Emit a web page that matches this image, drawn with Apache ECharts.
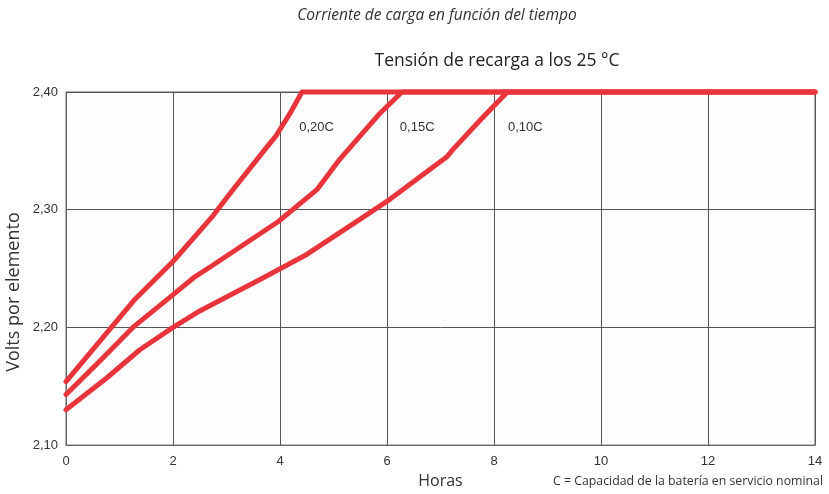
<!DOCTYPE html>
<html><head><meta charset="utf-8">
<script src="https://cdn.jsdelivr.net/npm/echarts@6/dist/echarts.min.js"></script>
<style>html,body{margin:0;padding:0;background:#fff}#c{width:829px;height:494px}</style>
</head><body><div id="c"></div>
<script>
// Data (hours vs volts per cell)
const hours020 = [0, 1.29, 2.0, 2.75, 3.12, 3.75, 3.93, 4.19, 4.41, 14];
const volts020 = [2.154, 2.224, 2.256, 2.295, 2.317, 2.353, 2.363, 2.382, 2.40, 2.40];
const hours015 = [0, 0.6, 1.25, 1.98, 2.38, 2.75, 3.97, 4.69, 5.12, 5.87, 6.28, 14];
const volts015 = [2.143, 2.170, 2.20, 2.227, 2.242, 2.253, 2.290, 2.317, 2.343, 2.382, 2.40, 2.40];
const hours010 = [0, 0.76, 1.38, 2.0, 2.5, 3.68, 4.5, 5.5, 6.06, 7.12, 7.23, 7.74, 8.25, 14];
const volts010 = [2.130, 2.157, 2.181, 2.20, 2.214, 2.242, 2.262, 2.292, 2.309, 2.345, 2.351, 2.376, 2.40, 2.40];
const seriesNames = ['0,20C', '0,15C', '0,10C'];
const labelPos = [[4.36, 2.370], [6.24, 2.370], [8.26, 2.370]];
const xTicks = {min: 0, max: 14, interval: 2};
const yTicks = {min: 2.1, max: 2.4, interval: 0.1};
const titleText = 'Corriente de carga en función del tiempo';
const subTitleText = 'Tensión de recarga a los 25 °C';
const yName = 'Volts por elemento';
const xName = 'Horas';
const noteText = 'C = Capacidad de la batería en servicio nominal';

const zip = (a, b) => a.map((v, i) => [v, b[i]]);
const dataSets = [zip(hours020, volts020), zip(hours015, volts015), zip(hours010, volts010)];
const red = '#e8353b';

const chart = echarts.init(document.getElementById('c'), null, {renderer: 'canvas'});
const font = 'Liberation Sans, Arial, sans-serif';
const hfont = 'Open Sans, sans-serif';
chart.setOption({
  animation: false,
  backgroundColor: '#ffffff',
  grid: {left: 66, right: 14, top: 92, bottom: 46, containLabel: false, show: true, backgroundColor: '#fdfdfd', borderColor: '#666', borderWidth: 1},
  xAxis: {
    type: 'value', min: xTicks.min, max: xTicks.max, interval: xTicks.interval,
    name: xName, nameLocation: 'middle', nameGap: 23,
    nameTextStyle: {fontFamily: hfont, fontSize: 16, color: '#333'},
    axisLine: {show: true, lineStyle: {color: '#666', width: 1}},
    axisTick: {show: false},
    axisLabel: {fontFamily: font, fontSize: 13, color: '#333', margin: 10},
    splitLine: {show: true, lineStyle: {color: '#555', width: 1}}
  },
  yAxis: {
    type: 'value', min: yTicks.min, max: yTicks.max, interval: yTicks.interval,
    axisLine: {show: true, lineStyle: {color: '#666', width: 1}},
    axisTick: {show: false},
    axisLabel: {fontFamily: font, fontSize: 13, color: '#333', margin: 8,
      formatter: v => v.toFixed(2).replace('.', ',')},
    splitLine: {show: true, lineStyle: {color: '#555', width: 1}}
  },
  series: dataSets.map((d, i) => ({
    name: seriesNames[i], type: 'line', data: d, showSymbol: false, clip: false,
    lineStyle: {color: red, width: 5, cap: 'round', join: 'round'},
    z: 3 - i,
    markPoint: {
      symbol: 'circle', symbolSize: 0, silent: true,
      data: [{coord: labelPos[i], value: seriesNames[i]}],
      label: {show: true, position: 'right', distance: 0, formatter: seriesNames[i],
        fontFamily: font, fontSize: 13, color: '#333', align: 'left', verticalAlign: 'middle'}
    }
  })),
  graphic: [
    {type: 'text', x: 437, y: 16, style: {text: titleText, fontFamily: hfont, fontStyle: 'italic', fontSize: 15.5, fill: '#333', align: 'center', verticalAlign: 'middle'}},
    {type: 'text', x: 497, y: 61, style: {text: subTitleText, fontFamily: hfont, fontSize: 17.5, fill: '#222', align: 'center', verticalAlign: 'middle'}},
    {type: 'text', x: 14, y: 292, rotation: Math.PI / 2, style: {text: yName, fontFamily: hfont, fontSize: 18, fill: '#333', align: 'center', verticalAlign: 'middle'}},
    {type: 'text', x: 823, y: 481, style: {text: noteText, fontFamily: hfont, fontSize: 12.3, fill: '#333', align: 'right', verticalAlign: 'middle'}}
  ]
});
</script></body></html>
